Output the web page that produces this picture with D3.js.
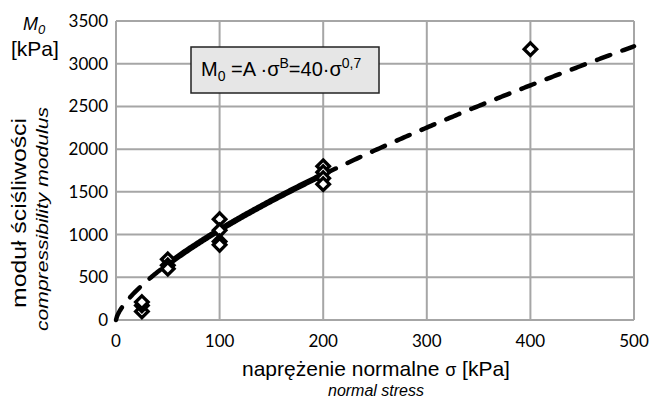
<!DOCTYPE html>
<html>
<head>
<meta charset="utf-8">
<script src="https://cdn.jsdelivr.net/npm/d3@7"></script>
<style>
body { margin: 0; background: #fff; }
svg { display: block; }
</style>
</head>
<body>
<svg id="chart" width="654" height="399"></svg>
<script>
// measured points [sigma kPa, M0 kPa]
let sigmaValues = [25, 25, 25, 50, 50, 50, 100, 100, 100, 100, 200, 200, 200, 200, 400];
let modulusValues = [100, 170, 210, 710, 640, 600, 1180, 1050, 920, 880, 1800, 1730, 1660, 1590, 3170];

let xTicks = [0, 100, 200, 300, 400, 500];
let yTicks = [0, 500, 1000, 1500, 2000, 2500, 3000, 3500];

// drawn trend curve M0 = A * sigma^B
let coefA = 44;
let coefB = 0.69;
let solidRange = [45, 200];

let svg = d3.select('#chart');
let margin = { left: 116, top: 21, right: 20, bottom: 79 };
let width = 654 - margin.left - margin.right;
let height = 399 - margin.top - margin.bottom;

let x = d3.scaleLinear().domain([0, 500]).range([0, width]);
let y = d3.scaleLinear().domain([0, 3500]).range([height, 0]);

let plot = svg.append('g')
    .attr('transform', `translate(${margin.left},${margin.top})`);

// grid
plot.append('g').selectAll('line')
    .data(xTicks)
    .enter().append('line')
    .attr('x1', d => x(d)).attr('x2', d => x(d))
    .attr('y1', 0).attr('y2', height)
    .attr('stroke', '#a6a6a6').attr('stroke-width', 2);

plot.append('g').selectAll('line')
    .data(yTicks)
    .enter().append('line')
    .attr('x1', 0).attr('x2', width)
    .attr('y1', d => y(d)).attr('y2', d => y(d))
    .attr('stroke', '#a6a6a6').attr('stroke-width', 2);

// tick labels
let tickFont = 'Lato, "Open Sans", sans-serif';
plot.append('g').selectAll('text')
    .data(xTicks)
    .enter().append('text')
    .attr('x', d => x(d))
    .attr('y', height + 27)
    .attr('text-anchor', 'middle')
    .attr('font-family', tickFont)
    .attr('font-size', 17)
    .text(d => d);

plot.append('g').selectAll('text')
    .data(yTicks)
    .enter().append('text')
    .attr('x', -8)
    .attr('y', d => y(d) + 6)
    .attr('text-anchor', 'end')
    .attr('font-family', tickFont)
    .attr('font-size', 17)
    .text(d => d);

// fitted curve
let power = s => coefA * Math.pow(s, coefB);
let line = d3.line().x(d => x(d)).y(d => y(power(d)));

let dashLow = d3.range(0, solidRange[0] + 1, 1);
let solid = d3.range(solidRange[0], solidRange[1] + 1, 1);
let dashHigh = d3.range(solidRange[1], 501, 2);

[dashLow, dashHigh].forEach(seg => {
    plot.append('path')
        .datum(seg)
        .attr('d', line)
        .attr('fill', 'none')
        .attr('stroke', '#000')
        .attr('stroke-width', 4.5)
        .attr('stroke-linecap', 'round')
        .attr('stroke-dasharray', '14,13');
});

plot.append('path')
    .datum(solid)
    .attr('d', line)
    .attr('fill', 'none')
    .attr('stroke', '#000')
    .attr('stroke-width', 6);

// points
let diamond = d3.symbol().type(d3.symbolDiamond2).size(100);
plot.append('g').selectAll('path')
    .data(sigmaValues.map((s, i) => [s, modulusValues[i]]))
    .enter().append('path')
    .attr('d', diamond)
    .attr('transform', d => `translate(${x(d[0])},${y(d[1])})`)
    .attr('fill', '#fff')
    .attr('stroke', '#000')
    .attr('stroke-width', 3.3);

// formula box
let arial = '"Liberation Sans", Arial, sans-serif';
let box = svg.append('g').attr('transform', 'translate(191,47)');
box.append('rect')
    .attr('width', 188).attr('height', 46)
    .attr('fill', '#e6e6e6')
    .attr('stroke', '#222')
    .attr('stroke-width', 1.5);
let formula = box.append('text')
    .attr('x', 10).attr('y', 29)
    .attr('font-family', arial)
    .attr('font-size', 20);
formula.append('tspan').text('M');
formula.append('tspan').attr('font-size', 14).attr('dy', 5).text('0');
formula.append('tspan').attr('dy', -5).text(' =A ·σ');
formula.append('tspan').attr('font-size', 14).attr('dy', -8).text('B');
formula.append('tspan').attr('dy', 8).text('=40·σ');
formula.append('tspan').attr('font-size', 14).attr('dy', -8).text('0,7');

// axis titles
let xTitle = svg.append('text')
    .attr('x', 376).attr('y', 376)
    .attr('text-anchor', 'middle')
    .attr('font-family', arial)
    .attr('font-size', 21);
xTitle.append('tspan').text('naprężenie normalne  ');
xTitle.append('tspan').attr('font-size', 18).text('σ');
xTitle.append('tspan').text(' [kPa]');

svg.append('text')
    .attr('x', 376).attr('y', 396)
    .attr('text-anchor', 'middle')
    .attr('font-family', arial)
    .attr('font-style', 'italic')
    .attr('font-size', 16)
    .text('normal stress');

let m0 = svg.append('text')
    .attr('x', 23).attr('y', 30)
    .attr('font-family', arial)
    .attr('font-style', 'italic')
    .attr('font-size', 18);
m0.append('tspan').text('M');
m0.append('tspan').attr('font-size', 13).attr('dy', 4).text('0');

svg.append('text')
    .attr('x', 11).attr('y', 56)
    .attr('font-family', arial)
    .attr('font-size', 21)
    .text('[kPa]');

svg.append('text')
    .attr('transform', 'translate(26,213) rotate(-90)')
    .attr('text-anchor', 'middle')
    .attr('font-family', arial)
    .attr('font-size', 21)
    .attr('textLength', 190)
    .attr('lengthAdjust', 'spacingAndGlyphs')
    .text('moduł ściśliwości');

svg.append('text')
    .attr('transform', 'translate(48,219) rotate(-90)')
    .attr('text-anchor', 'middle')
    .attr('font-family', arial)
    .attr('font-style', 'italic')
    .attr('font-size', 17)
    .attr('textLength', 224)
    .attr('lengthAdjust', 'spacingAndGlyphs')
    .text('compressibility modulus');
</script>
</body>
</html>
